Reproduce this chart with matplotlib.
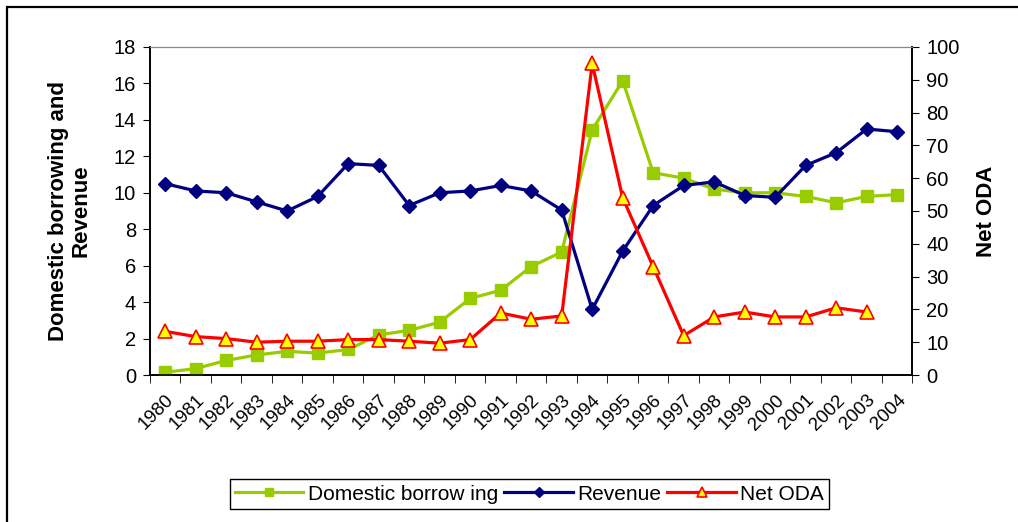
import matplotlib.pyplot as plt
from matplotlib.patches import Rectangle

plt.rcParams['font.family'] = ['Liberation Sans', 'DejaVu Sans']

years = [str(y) for y in range(1980, 2005)]
domestic_borrowing = [0.15, 0.35, 0.8, 1.1, 1.3, 1.2, 1.4, 2.2, 2.45, 2.9, 4.2, 4.65, 5.95, 6.75,
                      13.45, 16.15, 11.1, 10.8, 10.2, 10.0, 10.0, 9.8, 9.45, 9.8, 9.9]
revenue = [10.5, 10.1, 10.0, 9.5, 9.0, 9.8, 11.6, 11.5, 9.3, 10.0, 10.1, 10.4, 10.1, 9.05,
           3.6, 6.8, 9.3, 10.4, 10.6, 9.85, 9.75, 11.5, 12.2, 13.5, 13.35]
net_oda = [13.3, 11.7, 11.1, 10.0, 10.3, 10.3, 10.8, 10.8, 10.3, 9.7, 10.8, 18.9, 17.0, 18.0,
           95.0, 54.0, 33.0, 12.0, 17.7, 19.2, 17.7, 17.7, 20.5, 19.2]

fig = plt.figure(figsize=(10.18, 5.22), dpi=100)
ax = fig.add_axes([0.1473, 0.2816, 0.7490, 0.6284])
ax2 = ax.twinx()

x = list(range(len(years)))
l1, = ax.plot(x, domestic_borrowing, color='#99CC00', lw=2.3, marker='s', ms=8,
              mfc='#99CC00', mec='#99CC00', label='Domestic borrow ing', zorder=3)
l2, = ax.plot(x, revenue, color='#000080', lw=2.3, marker='D', ms=7.5,
              mfc='#000080', mec='#000080', label='Revenue', zorder=4)
l3, = ax2.plot(x[:len(net_oda)], net_oda, color='#FF0000', lw=2.3, marker='^', ms=10,
               mfc='#FFFF00', mec='#FF0000', mew=1.2, label='Net ODA', zorder=5)

ax.set_xlim(-0.5, len(years) - 0.5)
ax.set_ylim(0, 18)
ax2.set_ylim(0, 100)
ax.set_yticks(range(0, 19, 2))
ax2.set_yticks(range(0, 101, 10))

ax.set_xticks(x)
ax.set_xticklabels(years, rotation=45, ha='right', rotation_mode='anchor', fontsize=13.5)
ax.tick_params(axis='x', which='major', length=0, pad=12)
ax.set_xticks([i - 0.5 for i in range(len(years) + 1)], minor=True)
ax.tick_params(axis='x', which='minor', length=6, direction='out', color='black')
ax.tick_params(axis='y', labelsize=14.5, length=5, direction='out', pad=5)
ax2.tick_params(axis='y', labelsize=14.5, length=5, direction='out', pad=5)

for a in (ax, ax2):
    a.spines['top'].set_color('#888888')
    for s in ('left', 'right', 'bottom'):
        a.spines[s].set_color('black')
        a.spines[s].set_linewidth(1.2)

ax.set_ylabel('Domestic borrowing and\nRevenue', fontsize=16, fontweight='bold',
              labelpad=16, linespacing=1.1)
ax2.set_ylabel('Net ODA', fontsize=16, fontweight='bold', labelpad=12)

leg = fig.legend(handles=[l1, l2, l3], loc='center', bbox_to_anchor=(0.520, 0.0536),
                 ncol=3, fontsize=15, frameon=True, fancybox=False, edgecolor='black',
                 framealpha=1, handlelength=3.3, handletextpad=0.2, columnspacing=0.3,
                 borderpad=0.25, markerscale=0.7)
leg.get_frame().set_linewidth(1.0)

fig.patches.append(Rectangle((7 / 1018, -0.05), 1.05, 1 - 7 / 522 + 0.05,
                             transform=fig.transFigure, fill=False,
                             edgecolor='black', lw=1.6))

fig.savefig('out.png', dpi=100)
